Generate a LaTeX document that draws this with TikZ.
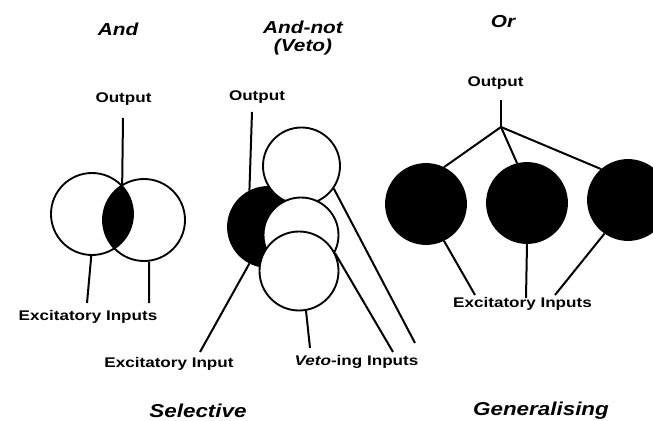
\documentclass[tikz,border=0pt]{standalone}
\usepackage{fontspec}
\setmainfont{Liberation Sans}
\newfontfamily\lblfont[FakeStretch=1.22]{Liberation Sans}
\newfontfamily\ttlfont[FakeStretch=1.2]{Liberation Sans}
\begin{document}
\begin{tikzpicture}[x=0.75pt,y=-0.75pt,
  lbl/.style={font=\lblfont\bfseries\fontsize{10.5}{12}\selectfont, inner sep=0pt, anchor=base},
  ttl/.style={font=\ttlfont\bfseries\itshape\fontsize{13}{15}\selectfont, inner sep=0pt, anchor=base},
  bigttl/.style={font=\ttlfont\bfseries\itshape\fontsize{14}{17}\selectfont, inner sep=0pt, anchor=base},
  cell/.style={circle, draw, line width=1.4pt, inner sep=0pt, minimum size=#1},
  wire/.style={line width=1.5pt}]
\useasboundingbox (0,0) rectangle (653,421);
\begin{scope}
\clip (0,0) rectangle (653,421);

% ---------- And ----------
\node[cell=61.5pt] (aL) at (92,214) {};
\node[cell=61.5pt] (aR) at (144,220) {};
\begin{scope}
  \clip (aL.center) circle[radius=30.75pt];
  \fill (aR.center) circle[radius=30.75pt];
\end{scope}
\coordinate (aOut) at (123,118);
\coordinate (aIn1) at (87,303);
\coordinate (aIn2) at (149,303);
\draw[wire] (aOut) -- (aL.44);
\draw[wire] (aL.-91) -- (aIn1);
\draw[wire] (aR.-83) -- (aIn2);
\node[ttl] (tAnd) at (118,35) {And};
\node[lbl] (oA) at (123.5,102) {Output};
\node[lbl] (eA) at (88,320) {Excitatory Inputs};

% ---------- And-not (Veto) ----------
\node[cell=60pt, fill=black] (vB) at (268,227) {};
\node[cell=57.75pt, fill=white] (vT) at (301.5,166) {};
\node[cell=56.25pt, fill=white] (vM) at (301,235) {};
\node[cell=59.25pt, fill=white] (vW) at (299,271) {};
\coordinate (vOut) at (252,112);
\coordinate (vIn) at (200,352);
\coordinate (vV1) at (415,343);
\coordinate (vV2) at (393,352);
\coordinate (vV3) at (310,348);
\draw[wire] (vOut) -- (vB.117);
\draw[wire] (vB.-117) -- (vIn);
\draw[wire] (vT.-35) -- (vV1);
\draw[wire] (vM.-28) -- (vV2);
\draw[wire] (vW.-80) -- (vV3);
\node[ttl] (tAndNot) at (303,33) {And-not};
\node[ttl] (tVeto) at (303,51) {(Veto)};
\node[lbl] (oV) at (257,100) {Output};
\node[lbl] (eV) at (169,367) {Excitatory Input};
\node[lbl] (xV) at (356.5,365) {{\itshape Veto}-ing Inputs};

% ---------- Or ----------
\node[cell=60pt, fill=black] (o1) at (426,204) {};
\node[cell=60pt, fill=black] (o2) at (527,203) {};
\node[cell=60pt, fill=black] (o3) at (628,200) {};
\coordinate (oOut) at (501,100);
\coordinate (oJ) at (501,127);
\coordinate (oI1) at (475,295);
\coordinate (oI2) at (526,298);
\coordinate (oI3) at (555,295);
\draw[wire] (oOut) -- (oJ);
\draw[wire] (oJ) -- (o1.64);
\draw[wire] (oJ) -- (o2.104);
\draw[wire] (oJ) -- (o3.131);
\draw[wire] (o1.-64) -- (oI1);
\draw[wire] (o2.-90) -- (oI2);
\draw[wire] (o3.-125) -- (oI3);
\node[ttl] (tOr) at (503,27) {Or};
\node[lbl] (oO) at (495.5,86) {Output};
\node[lbl] (eO) at (522.5,307) {Excitatory Inputs};

% ---------- captions ----------
\node[bigttl] (cSel) at (198,417) {Selective};
\node[bigttl] (cGen) at (541,415) {Generalising};
\end{scope}
\end{tikzpicture}
\end{document}
